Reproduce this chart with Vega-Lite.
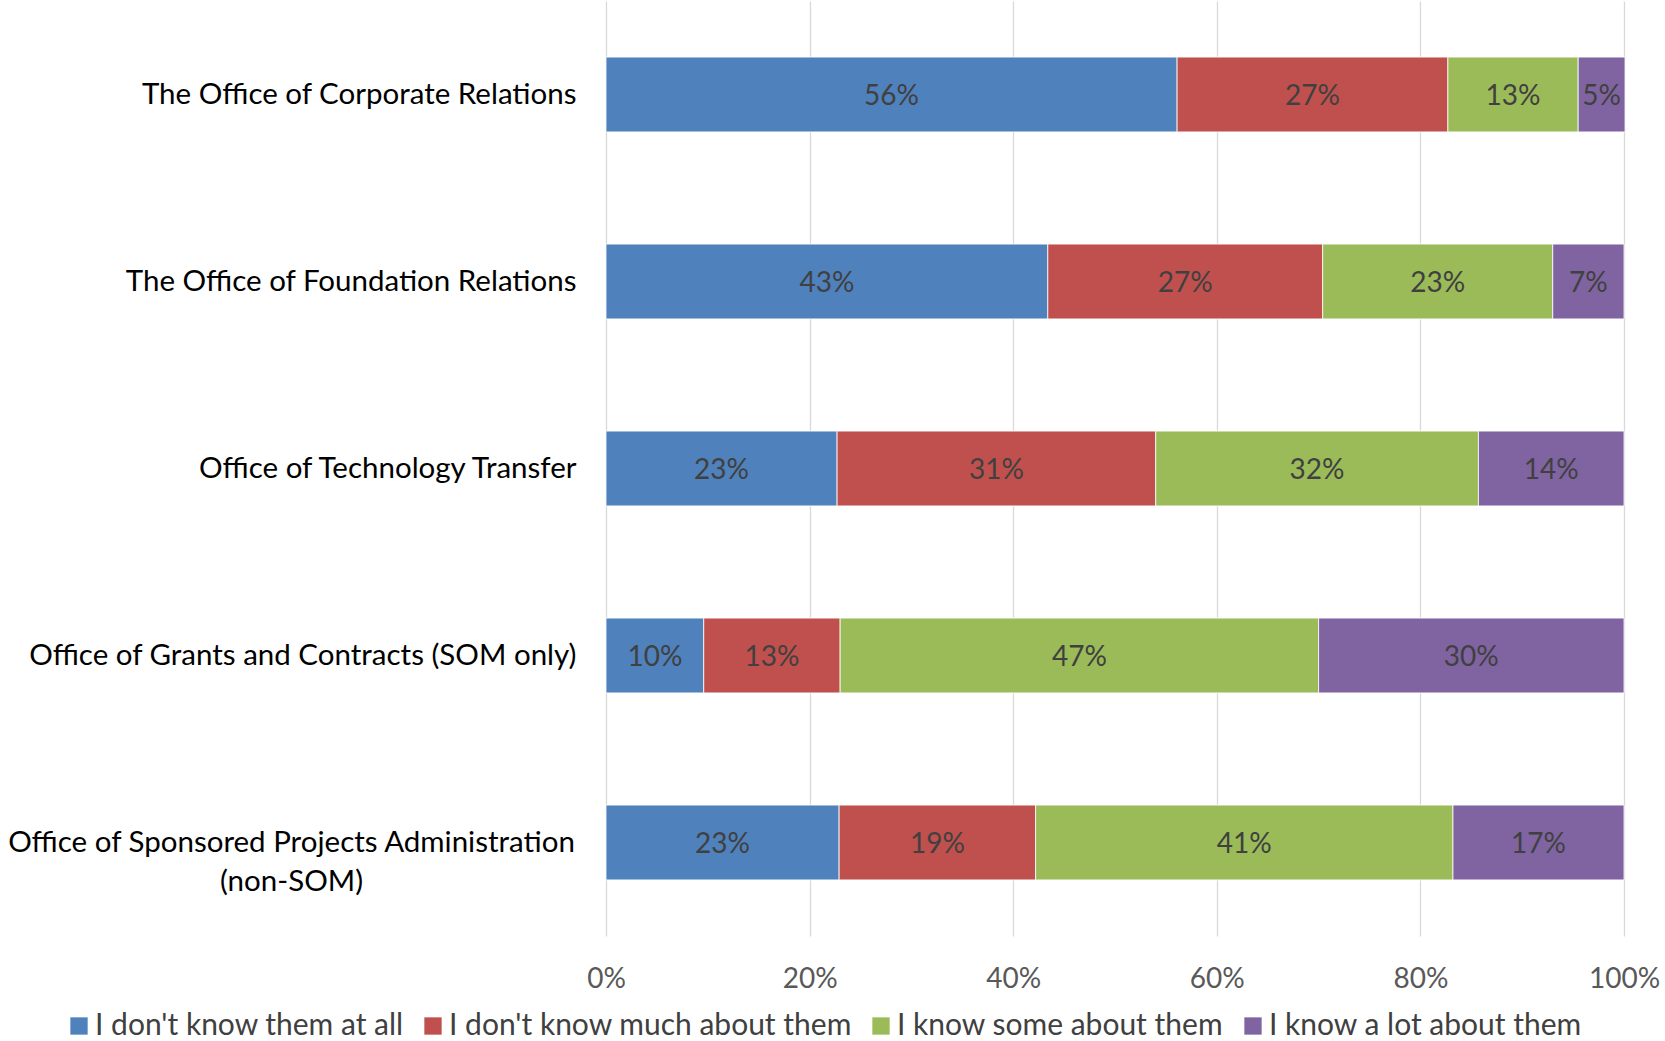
{
  "$schema": "https://vega.github.io/schema/vega-lite/v6.json",
  "width": 1018,
  "height": 935,
  "autosize": "none",
  "padding": {"left": 606, "top": 1, "right": 41, "bottom": 105},
  "background": "white",
  "config": {"view": {"stroke": null}, "font": "Lato"},
  "data": {
    "values": [
      {"office": "The Office of Corporate Relations", "level": "I don't know them at all", "k": 1, "pct": 0.561},
      {"office": "The Office of Corporate Relations", "level": "I don't know much about them", "k": 2, "pct": 0.266},
      {"office": "The Office of Corporate Relations", "level": "I know some about them", "k": 3, "pct": 0.128},
      {"office": "The Office of Corporate Relations", "level": "I know a lot about them", "k": 4, "pct": 0.046},
      {"office": "The Office of Foundation Relations", "level": "I don't know them at all", "k": 1, "pct": 0.434},
      {"office": "The Office of Foundation Relations", "level": "I don't know much about them", "k": 2, "pct": 0.27},
      {"office": "The Office of Foundation Relations", "level": "I know some about them", "k": 3, "pct": 0.226},
      {"office": "The Office of Foundation Relations", "level": "I know a lot about them", "k": 4, "pct": 0.07},
      {"office": "Office of Technology Transfer", "level": "I don't know them at all", "k": 1, "pct": 0.227},
      {"office": "Office of Technology Transfer", "level": "I don't know much about them", "k": 2, "pct": 0.313},
      {"office": "Office of Technology Transfer", "level": "I know some about them", "k": 3, "pct": 0.317},
      {"office": "Office of Technology Transfer", "level": "I know a lot about them", "k": 4, "pct": 0.143},
      {"office": "Office of Grants and Contracts (SOM only)", "level": "I don't know them at all", "k": 1, "pct": 0.096},
      {"office": "Office of Grants and Contracts (SOM only)", "level": "I don't know much about them", "k": 2, "pct": 0.134},
      {"office": "Office of Grants and Contracts (SOM only)", "level": "I know some about them", "k": 3, "pct": 0.47},
      {"office": "Office of Grants and Contracts (SOM only)", "level": "I know a lot about them", "k": 4, "pct": 0.3},
      {"office": "Office of Sponsored Projects Administration (non-SOM)", "level": "I don't know them at all", "k": 1, "pct": 0.229},
      {"office": "Office of Sponsored Projects Administration (non-SOM)", "level": "I don't know much about them", "k": 2, "pct": 0.193},
      {"office": "Office of Sponsored Projects Administration (non-SOM)", "level": "I know some about them", "k": 3, "pct": 0.41},
      {"office": "Office of Sponsored Projects Administration (non-SOM)", "level": "I know a lot about them", "k": 4, "pct": 0.168}
    ]
  },
  "encoding": {
    "y": {
      "field": "office",
      "type": "nominal",
      "sort": [
        "The Office of Corporate Relations",
        "The Office of Foundation Relations",
        "Office of Technology Transfer",
        "Office of Grants and Contracts (SOM only)",
        "Office of Sponsored Projects Administration (non-SOM)"
      ],
      "scale": {"paddingInner": 0.6, "paddingOuter": 0.3},
      "axis": {
        "title": null,
        "domain": false,
        "ticks": false,
        "grid": false,
        "labelFontSize": 29.5,
        "labelColor": "#000000",
        "labelLimit": 800,
        "labelLineHeight": 39,
        "labelExpr": "datum.value == 'Office of Sponsored Projects Administration (non-SOM)' ? ['Office of Sponsored Projects Administration', '(non-SOM)'] : datum.value",
        "labelAlign": {"condition": {"test": "datum.value == 'Office of Sponsored Projects Administration (non-SOM)'", "value": "center"}, "value": "right"},
        "labelPadding": {"condition": {"test": "datum.value == 'Office of Sponsored Projects Administration (non-SOM)'", "value": 315}, "value": 30}
      }
    }
  },
  "layer": [
    {
      "mark": {"type": "bar", "stroke": "#ffffff", "strokeWidth": 0.8},
      "encoding": {
        "x": {
          "field": "pct",
          "type": "quantitative",
          "stack": "zero",
          "scale": {"domain": [0, 1]},
          "axis": {
            "title": null,
            "format": ".0%",
            "values": [0, 0.2, 0.4, 0.6, 0.8, 1],
            "grid": true,
            "gridColor": "#d9d9d9",
            "gridWidth": 1.3,
            "domain": false,
            "ticks": false,
            "labelFlush": false,
            "labelFontSize": 28,
            "labelColor": "#595959",
            "labelPadding": 29
          }
        },
        "color": {
          "field": "level",
          "type": "nominal",
          "scale": {
            "domain": ["I don't know them at all", "I don't know much about them", "I know some about them", "I know a lot about them"],
            "range": ["#4F81BD", "#C0504D", "#9BBB59", "#8064A2"]
          },
          "legend": {
            "orient": "none",
            "legendX": -542,
            "legendY": 1010,
            "direction": "horizontal",
            "columns": 4,
            "title": null,
            "symbolType": "square",
            "symbolSize": 300,
            "symbolStrokeWidth": 0,
            "labelFontSize": 30,
            "labelColor": "#404040",
            "labelOffset": 1,
            "columnPadding": 14,
            "labelLimit": 600
          }
        },
        "order": {"field": "k", "type": "quantitative"}
      }
    },
    {
      "mark": {"type": "text", "fontSize": 28, "color": "#404040", "align": "center", "baseline": "middle", "dy": 2},
      "encoding": {
        "x": {"field": "pct", "type": "quantitative", "stack": "zero", "bandPosition": 0.5},
        "detail": {"field": "level"},
        "text": {"field": "pct", "type": "quantitative", "format": ".0%"},
        "order": {"field": "k", "type": "quantitative"}
      }
    }
  ]
}
